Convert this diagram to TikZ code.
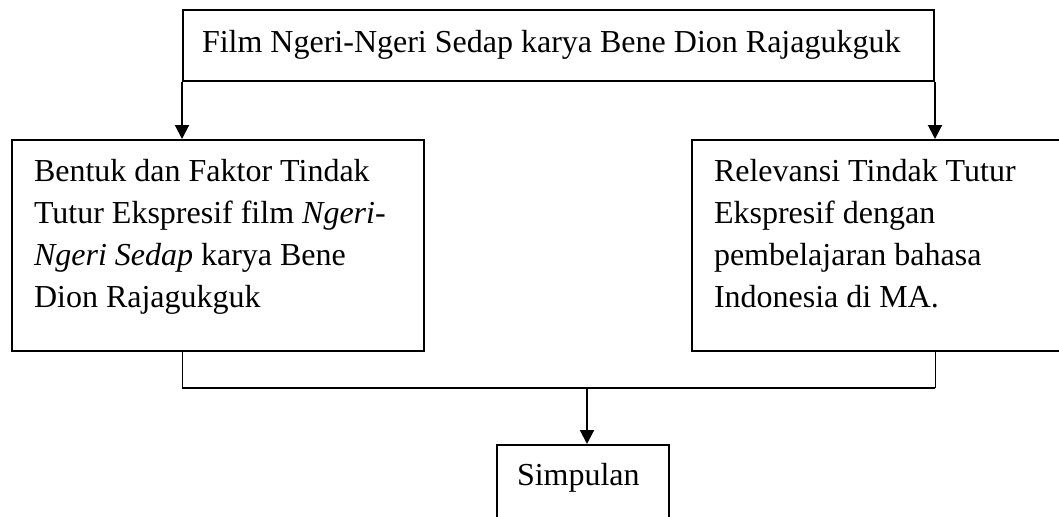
\documentclass[tikz,border=0pt]{standalone}
\usepackage{fontspec}
\setmainfont{Liberation Serif}
\usetikzlibrary{arrows, arrows.meta}
\usetikzlibrary{calc}

\begin{document}
\begin{tikzpicture}[x=0.5pt, y=-0.5pt, line width=1pt,
    box/.style={draw, rectangle, inner sep=0pt},
    txt/.style={inner sep=0pt, align=left, font=\fontsize{16}{21.1}\selectfont},
    arr/.style={-{Triangle[length=7pt, width=7pt]}}]
    \clip (0,0) rectangle (1059,516);

    \node[box, minimum width=375.5pt, minimum height=35.5pt] (film) at (558.5,45.5) {};
    \node[box, minimum width=206pt, minimum height=105.5pt] (bentuk) at (218,245.5) {};
    \node[box, minimum width=186.5pt, minimum height=105.5pt] (relevansi) at (878.5,245.5) {};
    \node[box, minimum width=86pt, minimum height=37.5pt] (simpulan) at (583,482.5) {};
    \coordinate (join) at (587,388);

    \node[txt, anchor=base west] (filmtxt) at (201,52) {Film Ngeri-Ngeri Sedap karya Bene Dion Rajagukguk};
    \node[txt, anchor=north west] (bentuktxt) at (33,158) {Bentuk dan Faktor Tindak\\Tutur Ekspresif film \textit{Ngeri-}\\\textit{Ngeri Sedap} karya Bene\\Dion Rajagukguk};
    \node[txt, anchor=north west] (relevansitxt) at (713,158) {Relevansi Tindak Tutur\\Ekspresif dengan\\pembelajaran bahasa\\Indonesia di MA.};
    \node[txt, anchor=base west] (simpulantxt) at (516,485) {Simpulan};

    \draw[arr] (film.south west) -- (film.south west |- bentuk.north);
    \draw[arr] (film.south east) -- (film.south east |- relevansi.north);
    \draw[line width=0.5pt] (film.west |- bentuk.south) -- (film.west |- join);
    \draw[line width=0.5pt] (film.east |- relevansi.south) -- (film.east |- join);
    \draw (film.west |- join) -- (film.east |- join);
    \draw[arr] (join) -- (join |- simpulan.north);
\end{tikzpicture}
\end{document}
